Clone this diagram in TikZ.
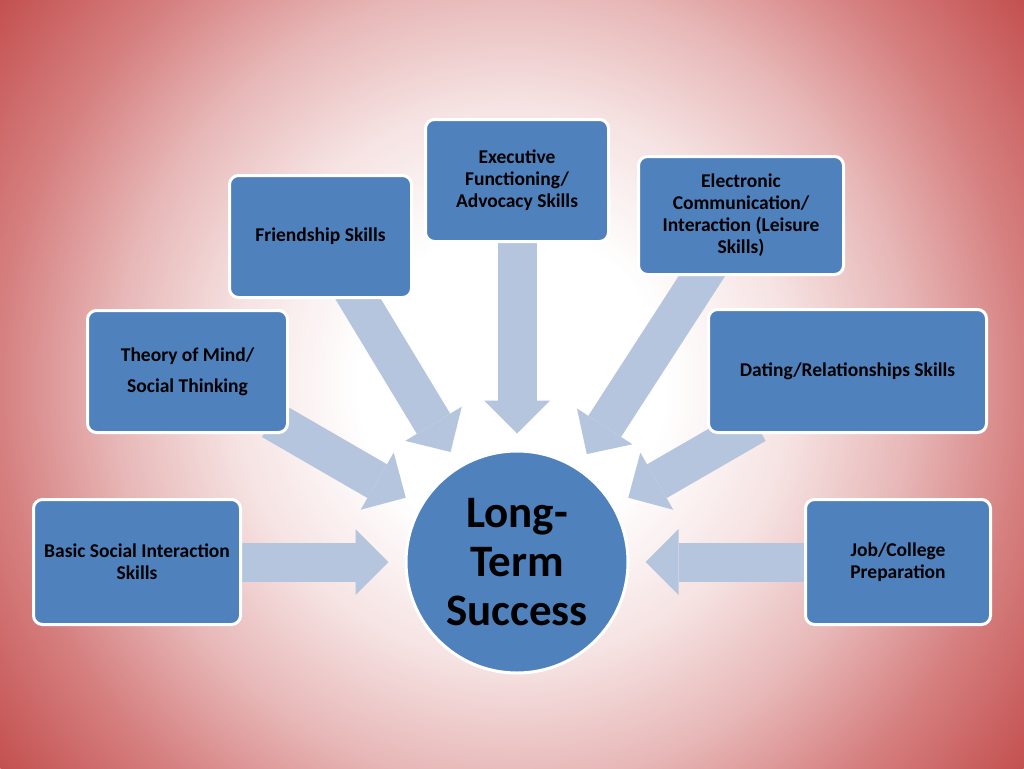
\documentclass[tikz,border=0pt]{standalone}
\usepackage{fontspec}
\setmainfont{Carlito}
\usetikzlibrary{arrows.meta}

\definecolor{boxblue}{RGB}{79,129,189}
\definecolor{linkblue}{RGB}{181,197,222}
\definecolor{bgA}{RGB}{246,226,226}
\definecolor{bgB}{RGB}{232,184,184}
\definecolor{bgC}{RGB}{214,128,128}
\definecolor{bgD}{RGB}{196,80,80}
\pgfdeclareradialshading{slidebg}{\pgfpoint{0bp}{0bp}}{color(0bp)=(white); color(6bp)=(white); color(11bp)=(bgA); color(15.5bp)=(bgB); color(20bp)=(bgC); color(25bp)=(bgD); color(50bp)=(bgD)}
\pgfdeclarelayer{bgshade}
\pgfdeclarelayer{links}
\pgfsetlayers{bgshade,links,main}

\begin{document}
\begin{tikzpicture}[x=1pt,y=-1pt,
	skill/.style={draw=white,line width=3pt,fill=boxblue,rounded corners=9pt,align=center,
		font=\bfseries\fontsize{19.5}{22}\selectfont,inner sep=2pt},
	goal/.style={circle,draw=white,line width=3pt,fill=boxblue,minimum size=222pt,align=center,
		font=\bfseries\fontsize{45}{49}\selectfont,inner sep=0pt},
	link/.style={draw=linkblue,line width=39pt,shorten <=-20pt,shorten >=16pt,
		-{Triangle[length=33pt 0 0,width=66pt 0 0,line width=0pt 0 0]}}]
	\useasboundingbox (0,0) rectangle (1024,768);
	\begin{pgfonlayer}{bgshade}
		\clip (0,0) rectangle (1024,768);
		\shade[shading=slidebg] (512,384) circle (640);
	\end{pgfonlayer}
	
	\node[goal] (lts) at (517,562) {Long-\\Term\\Success};
	
	\node[skill,minimum width=183pt,minimum height=122pt] (exe) at (517,180.5) {Executive\\Functioning/\\Advocacy Skills};
	\node[skill,minimum width=182pt,minimum height=122pt] (fr)  at (320.5,236.5) {Friendship Skills};
	\node[skill,minimum width=205pt,minimum height=118pt] (el)  at (741,215.5) {Electronic\\Communication/\\Interaction (Leisure\\Skills)};
	\node[skill,minimum width=200pt,minimum height=122pt] (th)  at (187.5,371.5) {Theory of Mind/\\[9pt]Social Thinking};
	\node[skill,minimum width=278pt,minimum height=123pt] (da)  at (847.5,371) {Dating/Relationships Skills};
	\node[skill,minimum width=207pt,minimum height=125pt] (ba)  at (137,562) {Basic Social Interaction\\Skills};
	\node[skill,minimum width=185pt,minimum height=125pt] (jo)  at (898,562) {Job/College\\Preparation};
	
	\begin{pgfonlayer}{links}
		\foreach \src in {exe,fr,el,th,da,ba,jo}
			\draw[link] (\src) -- (lts);
	\end{pgfonlayer}
\end{tikzpicture}
\end{document}
